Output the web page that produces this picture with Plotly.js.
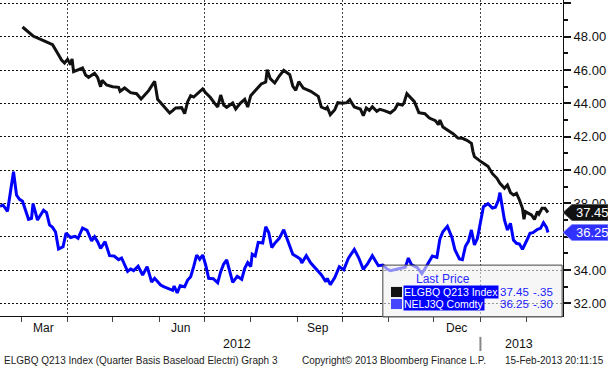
<!DOCTYPE html>
<html><head><meta charset="utf-8">
<script src="https://cdn.plot.ly/plotly-3.0.1.min.js"></script>
<style>html,body{margin:0;padding:0;background:#fff}#chart{width:608px;height:368px}</style>
</head><body><div id="chart"></div>
<script>
const blackDates = ['2012-03-02','2012-03-09','2012-03-16','2012-03-22','2012-03-25','2012-03-28','2012-03-30',
'2012-04-01','2012-04-03','2012-04-04','2012-04-05','2012-04-08','2012-04-11','2012-04-13','2012-04-15','2012-04-19','2012-04-21','2012-04-23','2012-04-24','2012-04-27',
'2012-05-01','2012-05-05','2012-05-06','2012-05-09','2012-05-13','2012-05-17','2012-05-20','2012-05-25','2012-05-29','2012-05-31',
'2012-06-04','2012-06-08','2012-06-10','2012-06-12','2012-06-16','2012-06-18','2012-06-20','2012-06-22','2012-06-24','2012-06-27','2012-06-30',
'2012-07-02','2012-07-05','2012-07-08','2012-07-10','2012-07-12','2012-07-14','2012-07-16','2012-07-20','2012-07-22','2012-07-25','2012-07-28','2012-07-30',
'2012-08-01','2012-08-04','2012-08-08','2012-08-11','2012-08-12','2012-08-14','2012-08-17','2012-08-20','2012-08-23','2012-08-27','2012-08-29','2012-08-31',
'2012-09-02','2012-09-05','2012-09-10','2012-09-15','2012-09-17','2012-09-20','2012-09-21','2012-09-23','2012-09-26','2012-09-28',
'2012-10-01','2012-10-04','2012-10-06','2012-10-09','2012-10-13','2012-10-15','2012-10-17','2012-10-19','2012-10-21','2012-10-24','2012-10-26','2012-10-29',
'2012-11-02','2012-11-05','2012-11-07','2012-11-10','2012-11-11','2012-11-13','2012-11-16','2012-11-18','2012-11-21','2012-11-25','2012-11-28',
'2012-12-02','2012-12-04','2012-12-05','2012-12-07','2012-12-10','2012-12-14','2012-12-17','2012-12-20','2012-12-23','2012-12-26','2012-12-27','2012-12-28',
'2013-01-02','2013-01-06','2013-01-09','2013-01-12','2013-01-14','2013-01-17','2013-01-19','2013-01-21','2013-01-23','2013-01-25','2013-01-27','2013-01-29','2013-01-30','2013-01-31',
'2013-02-02','2013-02-04','2013-02-06','2013-02-08','2013-02-09','2013-02-11','2013-02-13','2013-02-15'];
const blackValues = [48.58,48.04,47.76,47.52,47.06,46.6,46.42,
46.64,46.32,46.66,45.9,46.0,46.12,45.7,45.56,45.8,45.56,45.0,45.38,45.1,
45.0,44.96,44.72,44.92,44.64,44.58,44.26,44.76,45.32,44.24,
43.84,43.42,43.56,43.72,43.74,43.38,44.1,44.46,44.38,44.6,44.86,
44.64,44.36,44.0,43.78,44.5,43.9,43.76,44.02,43.66,44.0,44.24,43.78,
44.46,44.76,45.16,45.28,46.02,45.48,45.22,45.64,45.98,45.72,45.04,44.78,
45.3,44.92,44.72,44.42,43.78,43.66,43.76,43.32,43.62,44.04,
44.0,44.04,44.22,43.78,43.66,43.26,43.72,43.58,43.8,43.52,43.64,43.56,
43.42,43.64,43.96,43.9,44.0,44.58,44.3,44.1,43.44,43.38,43.12,
42.96,42.72,43.0,42.58,42.4,42.16,41.92,41.9,41.78,41.6,41.12,40.8,
40.46,40.22,39.78,39.5,39.2,38.9,39.1,38.64,38.5,38.6,38.2,37.7,37.04,37.5,
37.4,37.3,37.04,37.5,37.36,37.7,37.7,37.45];

const blueDates = ['2012-02-16','2012-02-18','2012-02-21','2012-02-23','2012-02-25','2012-02-27','2012-02-29',
'2012-03-02','2012-03-06','2012-03-08','2012-03-09','2012-03-12','2012-03-16','2012-03-18','2012-03-20','2012-03-22','2012-03-24','2012-03-26','2012-03-29','2012-03-31',
'2012-04-03','2012-04-06','2012-04-08','2012-04-11','2012-04-14','2012-04-17','2012-04-19','2012-04-21','2012-04-23','2012-04-26','2012-04-29',
'2012-05-02','2012-05-05','2012-05-07','2012-05-11','2012-05-13','2012-05-15','2012-05-18','2012-05-21','2012-05-24','2012-05-27','2012-05-29',
'2012-06-02','2012-06-04','2012-06-07','2012-06-10','2012-06-11','2012-06-13','2012-06-15','2012-06-18','2012-06-20','2012-06-22','2012-06-24','2012-06-26','2012-06-28','2012-06-30',
'2012-07-02','2012-07-04','2012-07-07','2012-07-10','2012-07-12','2012-07-14','2012-07-16','2012-07-18','2012-07-20','2012-07-23','2012-07-26','2012-07-28','2012-07-30',
'2012-08-01','2012-08-02','2012-08-04','2012-08-06','2012-08-09','2012-08-11','2012-08-13','2012-08-15','2012-08-17','2012-08-20','2012-08-23','2012-08-25','2012-08-29',
'2012-09-01','2012-09-03','2012-09-04','2012-09-07','2012-09-10','2012-09-13','2012-09-17','2012-09-20','2012-09-21','2012-09-23','2012-09-26','2012-09-29',
'2012-10-02','2012-10-05','2012-10-09','2012-10-12','2012-10-15','2012-10-18','2012-10-21','2012-10-25','2012-10-28','2012-10-31',
'2012-11-02','2012-11-04','2012-11-06','2012-11-08','2012-11-12','2012-11-14','2012-11-16','2012-11-20','2012-11-23','2012-11-26','2012-11-30',
'2012-12-03','2012-12-05','2012-12-07','2012-12-10','2012-12-13','2012-12-15','2012-12-18','2012-12-20','2012-12-22','2012-12-24','2012-12-26','2012-12-28','2012-12-30',
'2013-01-01','2013-01-03','2013-01-06','2013-01-09','2013-01-11','2013-01-13','2013-01-14','2013-01-15','2013-01-17','2013-01-19','2013-01-21','2013-01-23','2013-01-25','2013-01-27','2013-01-29',
'2013-02-01','2013-02-03','2013-02-05','2013-02-08','2013-02-10','2013-02-12','2013-02-14','2013-02-15'];
const blueValues = [37.82,37.9,37.52,38.6,39.9,38.5,38.24,
38.12,37.04,37.1,37.98,37.0,37.58,37.44,36.7,36.56,36.28,35.26,35.4,36.22,
35.95,36.02,35.9,36.52,36.38,35.75,36.0,35.7,35.3,35.7,34.86,
34.84,34.62,34.72,33.92,34.06,33.96,34.22,33.7,34.2,33.28,33.5,
33.1,33.0,32.9,32.78,33.04,32.62,33.06,33.0,33.4,33.6,34.2,34.9,34.64,34.9,
34.3,33.5,33.48,33.24,33.9,34.36,34.6,33.9,33.26,33.62,33.44,34.1,34.45,
34.2,34.95,34.84,35.66,35.62,36.6,36.25,35.35,35.6,35.9,36.42,35.94,34.95,
34.78,34.66,34.42,34.86,34.42,34.12,33.72,33.3,33.5,33.12,33.54,34.2,
34.02,34.7,35.24,34.72,34.04,34.4,34.86,34.26,34.3,34.04,
33.96,34.0,34.04,34.08,34.16,34.72,34.32,34.14,33.78,34.22,34.84,
34.76,35.86,36.3,36.62,35.96,35.22,34.66,34.62,35.42,35.72,36.4,35.5,35.9,
36.9,37.8,37.98,37.72,37.76,38.2,38.64,38.1,37.0,36.4,36.8,35.8,35.6,35.56,35.24,
35.8,36.2,36.24,36.44,36.5,36.84,36.56,36.25];

const seriesNames = ['ELGBQ Q213 Index', 'NELJ3Q Comdty'];
const seriesChanges = ['-.35', '-.30'];
const yTickVals = [32, 34, 36, 38, 40, 42, 44, 46, 48, 50];
// 36.00 is fully hidden behind the NELJ3Q last-price tag in the original
const yTickText = ['32.00','34.00','','38.00','40.00','42.00','44.00','46.00','48.00',''];
const quarterStarts = ['2012-04-01','2012-07-01','2012-10-01','2013-01-01'];
const monthStarts = ['2012-03-01','2012-04-01','2012-05-01','2012-06-01','2012-07-01','2012-08-01','2012-09-01','2012-10-01','2012-11-01','2012-12-01','2013-01-01','2013-02-01'];
const monthLabels = ['Mar','Jun','Sep','Dec'];
const monthLabelDates = ['2012-03-16','2012-06-15','2012-09-15','2012-12-16'];
const yearLabels = ['2012','2013'];
const yearLabelDates = ['2012-07-23','2013-01-27'];
const footerLeft = 'ELGBQ Q213 Index (Quarter Basis Baseload Electri) Graph 3';
const footerMid = 'Copyright\u00a9 2013 Bloomberg Finance L.P.';
const footerRight = '15-Feb-2013 20:11:15';

const FONT = 'Liberation Sans, Arial, sans-serif';
const BLUE = '#0000ff';

const traces = [
  {x: blackDates, y: blackValues, type: 'scatter', mode: 'lines', name: seriesNames[0],
   line: {color: '#111111', width: 3}},
  {x: blueDates, y: blueValues, type: 'scatter', mode: 'lines', name: seriesNames[1],
   line: {color: BLUE, width: 3}}
];

const lastBlack = blackValues[blackValues.length - 1];
const lastBlue = blueValues[blueValues.length - 1];

function tagPath(v) {
  const h = 0.48;
  return `M1,${v} L1.016,${v + h} L1.08,${v + h} L1.08,${v - h} L1.016,${v - h} Z`;
}

const shapes = [
  {type: 'path', xref: 'paper', yref: 'y', path: tagPath(lastBlack), fillcolor: '#111111',
   line: {color: '#555', width: 1}, layer: 'above'},
  {type: 'path', xref: 'paper', yref: 'y', path: tagPath(lastBlue), fillcolor: '#3030ff',
   line: {color: '#8888ff', width: 1}, layer: 'above'},
  // legend box
  {type: 'rect', xref: 'paper', yref: 'paper', x0: 0.680, x1: 0.9985, y0: -0.003, y1: 0.161,
   fillcolor: 'rgba(240,240,240,0.6)', line: {color: '#444', width: 1}, layer: 'above'},
  {type: 'rect', xref: 'paper', yref: 'paper', x0: 0.6945, x1: 0.714, y0: 0.060, y1: 0.092,
   fillcolor: '#111', line: {width: 0}, layer: 'above'},
  {type: 'rect', xref: 'paper', yref: 'paper', x0: 0.6945, x1: 0.714, y0: 0.022, y1: 0.054,
   fillcolor: '#4444ff', line: {width: 0}, layer: 'above'},
  // year separator
  {type: 'line', xref: 'x', yref: 'paper', x0: '2013-01-01', x1: '2013-01-01', y0: -0.066, y1: -0.111,
   line: {color: '#888', width: 2}}
];

const annotations = [];
monthLabels.forEach((t, i) => annotations.push({text: t, x: monthLabelDates[i], xref: 'x', y: -0.038, yref: 'paper',
  yanchor: 'middle', showarrow: false, font: {family: FONT, size: 12, color: '#111'}}));
yearLabels.forEach((t, i) => annotations.push({text: t, x: yearLabelDates[i], xref: 'x', y: -0.089, yref: 'paper',
  yanchor: 'middle', showarrow: false, font: {family: FONT, size: 12.5, color: '#111'}}));
annotations.push(
  {text: lastBlack.toFixed(2), x: 1.019, xref: 'paper', xanchor: 'left', y: lastBlack, yref: 'y', yanchor: 'middle',
   showarrow: false, font: {family: FONT, size: 13, color: '#fff'}},
  {text: lastBlue.toFixed(2), x: 1.019, xref: 'paper', xanchor: 'left', y: lastBlue, yref: 'y', yanchor: 'middle',
   showarrow: false, font: {family: FONT, size: 13, color: '#fff'}},
  {text: 'Last Price', x: 0.8384, xref: 'paper', y: 0.117, yref: 'paper', yanchor: 'middle', showarrow: false,
   font: {family: FONT, size: 12, color: '#2a2aff'}},
  {text: seriesNames[0], x: 0.7158, xref: 'paper', xanchor: 'left', y: 0.076, yref: 'paper', yanchor: 'middle',
   showarrow: false, bgcolor: BLUE, borderpad: 0, font: {family: FONT, size: 10.5, color: '#fff'}},
  {text: seriesNames[1], x: 0.7158, xref: 'paper', xanchor: 'left', y: 0.038, yref: 'paper', yanchor: 'middle',
   showarrow: false, bgcolor: BLUE, borderpad: 0, font: {family: FONT, size: 10.5, color: '#fff'}},
  {text: lastBlack.toFixed(2), x: 0.8845, xref: 'paper', xanchor: 'left', y: 0.076, yref: 'paper', yanchor: 'middle',
   showarrow: false, font: {family: FONT, size: 11.5, color: '#2020ff'}},
  {text: lastBlue.toFixed(2), x: 0.8845, xref: 'paper', xanchor: 'left', y: 0.038, yref: 'paper', yanchor: 'middle',
   showarrow: false, font: {family: FONT, size: 11.5, color: '#2020ff'}},
  {text: seriesChanges[0], x: 0.986, xref: 'paper', xanchor: 'right', y: 0.076, yref: 'paper', yanchor: 'middle',
   showarrow: false, font: {family: FONT, size: 11.5, color: '#2020ff'}},
  {text: seriesChanges[1], x: 0.986, xref: 'paper', xanchor: 'right', y: 0.038, yref: 'paper', yanchor: 'middle',
   showarrow: false, font: {family: FONT, size: 11.5, color: '#2020ff'}},
  {text: footerLeft, x: 0.0036, xref: 'paper', xanchor: 'left', y: -0.1424, yref: 'paper', yanchor: 'middle',
   showarrow: false, font: {family: FONT, size: 10, color: '#222'}},
  {text: footerMid, x: 0.533, xref: 'paper', xanchor: 'left', y: -0.1424, yref: 'paper', yanchor: 'middle',
   showarrow: false, font: {family: FONT, size: 10, color: '#222'}},
  {text: footerRight, x: 1.0764, xref: 'paper', xanchor: 'right', y: -0.1424, yref: 'paper', yanchor: 'middle',
   showarrow: false, font: {family: FONT, size: 10, color: '#222'}}
);

const layout = {
  width: 608, height: 368,
  margin: {l: 0, r: 45, t: 0, b: 52, pad: 0},
  paper_bgcolor: '#fff', plot_bgcolor: '#fff',
  showlegend: false,
  font: {family: FONT, size: 12, color: '#111'},
  xaxis: {
    type: 'date', range: ['2012-02-16', '2013-02-25'],
    showline: true, linecolor: '#111', linewidth: 1,
    tickmode: 'array', tickvals: quarterStarts, showticklabels: false,
    ticks: 'outside', ticklen: 5, tickcolor: '#444', tickwidth: 1,
    showgrid: true, gridcolor: '#444', griddash: '2px,2px', gridwidth: 1,
    minor: {tickmode: 'array', tickvals: monthStarts, ticks: 'outside', ticklen: 5, tickcolor: '#444', showgrid: false},
    zeroline: false, fixedrange: true
  },
  yaxis: {
    side: 'right', range: [31.24, 50.2],
    showline: true, linecolor: '#111', linewidth: 1,
    tickmode: 'array', tickvals: yTickVals, ticktext: yTickText,
    ticks: 'outside', ticklen: 7, tickwidth: 2, tickcolor: '#111',
    tickfont: {family: FONT, size: 13, color: '#111'},
    showgrid: true, gridcolor: '#111', griddash: '2px,2px', gridwidth: 1,
    minor: {dtick: 1, tick0: 31, ticks: 'outside', ticklen: 4, tickcolor: '#111', showgrid: false},
    zeroline: false, fixedrange: true
  },
  shapes: shapes,
  annotations: annotations
};

Plotly.newPlot('chart', traces, layout, {staticPlot: true, displayModeBar: false});
</script>
</body></html>
